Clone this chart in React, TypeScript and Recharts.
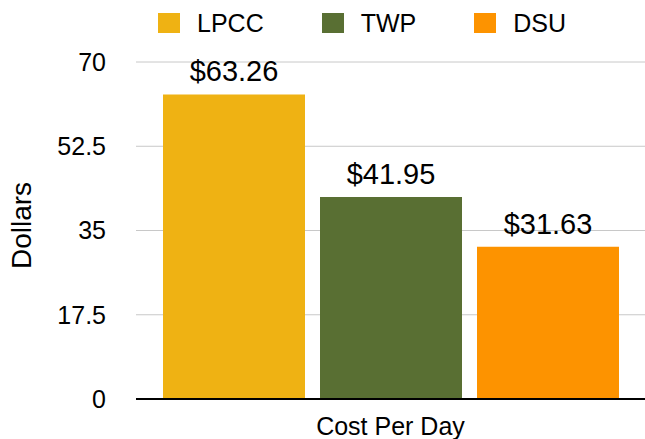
import { BarChart, Bar, XAxis, YAxis, CartesianGrid, LabelList } from 'recharts';

// data
const CATEGORIES = ['Cost Per Day'];
const SERIES = ['LPCC', 'TWP', 'DSU'];
const VALUES = [63.26, 41.95, 31.63];
const Y_TICKS = [0, 17.5, 35, 52.5, 70];

const COLORS: Record<string, string> = {
  LPCC: '#efb213',
  TWP: '#596f33',
  DSU: '#fd9300',
};

const FONT = '"Liberation Sans", Arial, Helvetica, sans-serif';
const TICK = { fontSize: 25, fill: '#000', fontFamily: FONT };

const rows = CATEGORIES.map((name) => {
  const row: Record<string, any> = { name };
  SERIES.forEach((s, i) => {
    row[s] = VALUES[i];
  });
  return row;
});

function TopLegend() {
  return (
    <div
      style={{
        position: 'absolute',
        left: 158,
        top: 8,
        display: 'flex',
        alignItems: 'center',
        fontFamily: FONT,
        fontSize: 25,
        color: '#000',
        lineHeight: '30px',
      }}
    >
      {SERIES.map((s) => (
        <div key={s} style={{ display: 'flex', alignItems: 'center', marginRight: 58 }}>
          <span style={{ width: 22, height: 20, background: COLORS[s], marginRight: 17, display: 'inline-block' }} />
          <span>{s}</span>
        </div>
      ))}
    </div>
  );
}

export default function App() {
  return (
    <div style={{ position: 'absolute', left: 0, top: 0, width: 645, height: 439, background: '#fff', fontFamily: FONT }}>
      <TopLegend />
      <BarChart
        width={645}
        height={439}
        data={rows}
        margin={{ top: 62, right: 0, left: 0, bottom: 0 }}
        barSize={142}
        barGap={15}
      >
        <CartesianGrid vertical={false} stroke="#c8c8c8" strokeWidth={1} />
        <XAxis
          dataKey="name"
          tick={TICK}
          tickLine={false}
          tickSize={0}
          tickMargin={18}
          height={40}
          axisLine={{ stroke: '#000', strokeWidth: 2 }}
        />
        <YAxis
          domain={[0, 70]}
          ticks={Y_TICKS}
          interval={0}
          width={136}
          tick={TICK}
          tickLine={false}
          tickSize={0}
          tickMargin={30}
          axisLine={false}
          label={{
            value: 'Dollars',
            angle: -90,
            position: 'insideLeft',
            offset: 21,
            dy: -5,
            style: { fontSize: 28, fill: '#000', fontFamily: FONT, textAnchor: 'middle' },
          }}
        />
        {SERIES.map((s) => (
          <Bar key={s} dataKey={s} fill={COLORS[s]} isAnimationActive={false}>
            <LabelList
              dataKey={s}
              position="top"
              offset={13}
              formatter={(v: any) => `$${Number(v).toFixed(2)}`}
              style={{ fontSize: 29, fill: '#000', fontFamily: FONT }}
            />
          </Bar>
        ))}
      </BarChart>
    </div>
  );
}
